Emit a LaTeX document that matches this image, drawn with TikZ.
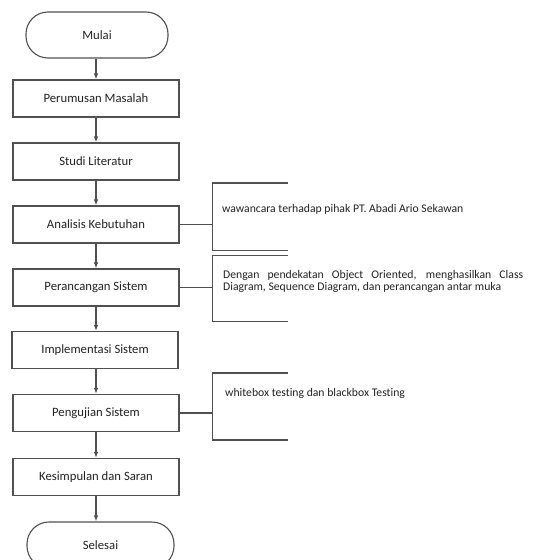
\documentclass[tikz,border=0pt]{standalone}
\usepackage{fontspec}
\setmainfont{Carlito}[Ligatures=NoCommon]
\usetikzlibrary{arrows.meta}
\definecolor{ln}{HTML}{505050}
\definecolor{tx}{HTML}{222222}
\begin{document}
\begin{tikzpicture}[x=1pt,y=-1pt,
  boxstyle/.style={draw=ln,line width=1.1pt,minimum width=166pt,minimum height=37pt,inner sep=0pt,font=\fontsize{12.7}{14}\selectfont,text=tx},
  termstyle/.style={draw=ln,line width=1.1pt,rounded corners=22pt,minimum width=142pt,minimum height=46pt,inner sep=0pt,font=\fontsize{12.7}{14}\selectfont,text=tx},
  flow/.style={draw=ln,line width=1.1pt,-{Latex[length=6pt,width=4.5pt]}},
  brk/.style={draw=ln,line width=1.1pt},
  note/.style={font=\fontsize{11.7}{12}\selectfont,text=tx,inner sep=0pt,anchor=north west,align=left}]
\useasboundingbox (0,0) rectangle (533,560);
\node[termstyle] (mulai) at (97,35) {Mulai};
\node[boxstyle] (p1) at (96,98.5) {Perumusan Masalah};
\node[boxstyle] (p2) at (96,161.5) {Studi Literatur};
\node[boxstyle] (p3) at (96,224.5) {Analisis Kebutuhan};
\node[boxstyle] (p4) at (96,287.5) {Perancangan Sistem};
\node[boxstyle] (p5) at (95,350) {Implementasi Sistem};
\node[boxstyle] (p6) at (96,413) {Pengujian Sistem};
\node[boxstyle] (p7) at (96,477) {Kesimpulan dan Saran};
\node[termstyle,minimum width=147pt] (selesai) at (100.5,545) {Selesai};
\draw[flow] (mulai.south -| p1.north) -- (p1.north);
\draw[flow] (p1) -- (p2);
\draw[flow] (p2) -- (p3);
\draw[flow] (p3) -- (p4);
\draw[flow] (p4.south) -- (p5.north -| p4.south);
\draw[flow] (p5.south -| p6.north) -- (p6.north);
\draw[flow] (p6) -- (p7);
\draw[flow] (p7.south) -- (selesai.north -| p7.south);
% brackets
\coordinate (b1t) at (288,183); \coordinate (b1v) at (212.5,183);
\coordinate (b1w) at (212.5,250.5); \coordinate (b1b) at (288,250.5);
\draw[brk] (b1t) -- (b1v) -- (b1w) -- (b1b);
\draw[brk] (p3.east) -- (p3.east -| b1v);
\coordinate (b2t) at (288,255.5); \coordinate (b2v) at (212.5,255.5);
\coordinate (b2w) at (212.5,321.5); \coordinate (b2b) at (288,321.5);
\draw[brk] (b2t) -- (b2v) -- (b2w) -- (b2b);
\draw[brk] (p4.east) -- (p4.east -| b2v);
\coordinate (b3t) at (288,373); \coordinate (b3v) at (212.5,373);
\coordinate (b3w) at (212.5,440); \coordinate (b3b) at (288,440);
\draw[brk] (b3t) -- (b3v) -- (b3w) -- (b3b);
\draw[brk] (p6.east) -- (p6.east -| b3v);
\node[note] (n1) at (222,204) {wawancara terhadap pihak PT. Abadi Ario Sekawan};
\node[note] (n2) at (223,270) {\makebox[300pt][s]{Dengan pendekatan Object Oriented, menghasilkan Class}\\Diagram, Sequence Diagram, dan perancangan antar muka};
\node[note] (n3) at (225,388) {whitebox testing dan blackbox Testing};
\end{tikzpicture}
\end{document}
